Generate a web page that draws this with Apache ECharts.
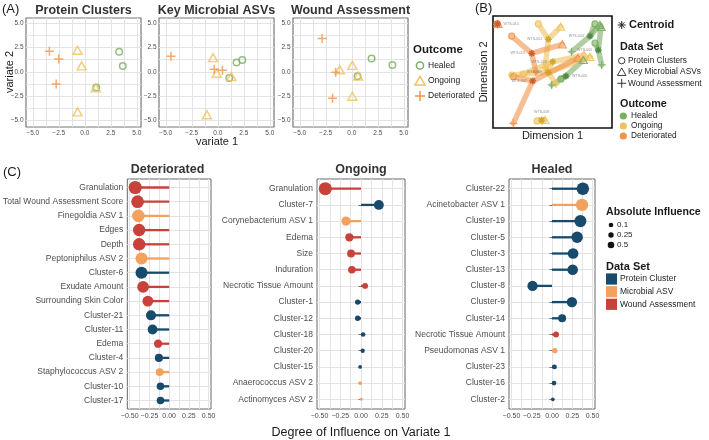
<!DOCTYPE html>
<html><head><meta charset="utf-8">
<script src="https://cdn.jsdelivr.net/npm/echarts@6/dist/echarts.min.js"></script>
<style>html,body{margin:0;padding:0;background:#fff}#c{width:709px;height:440px}</style>
</head><body><div id="c"></div><script>
// ---------- Panel A data ----------
const scatterTitles = ['Protein Clusters', 'Key Microbial ASVs', 'Wound Assessment'];
const outcomes = ['Healed', 'Ongoing', 'Deteriorated'];
const tickLabelsA = [-5, -2.5, 0, 2.5, 5];
const proteinHealed = [[3.3, 2.05], [3.65, 0.6], [1.1, -1.6]];
const proteinOngoing = [[-0.7, 2.2], [-0.3, 0.6], [1.05, -1.65], [-0.7, -4.1]];
const proteinDeteriorated = [[-3.4, 2.1], [-2.5, 1.3], [-2.75, -1.25]];
const microbialHealed = [[1.8, 0.95], [2.35, 1.2], [1.1, -0.65]];
const microbialOngoing = [[-0.45, 1.45], [-0.1, -0.15], [1.3, -0.5], [-1.05, -4.4]];
const microbialDeteriorated = [[-4.5, 1.6], [-0.35, 0.25], [0.45, 0.15]];
const woundHealed = [[1.9, 1.35], [3.9, 0.7], [0.55, -0.45]];
const woundOngoing = [[-1.15, 0.2], [0.05, 0.65], [0.05, -2.5], [0.6, -0.45]];
const woundDeteriorated = [[-2.85, 3.4], [-1.55, -0.05], [-1.85, -2.7]];

// ---------- Panel B data ----------
const subjects = ['WTS-010','WTS-001','WTS-007','WTS-002','WTS-003','WTS-009','WTS-008','WTS-004','WTS-005','WTS-006'];
const subjectOutcome = ['Deteriorated','Deteriorated','Deteriorated','Ongoing','Ongoing','Ongoing','Ongoing','Healed','Healed','Healed'];
const centroidDim = [[3.8,92.9],[32.5,66.7],[33.4,42],[46.5,79.2],[50.2,59.2],[46.5,49.7],[40.9,7.1],[81.5,82.1],[88.5,69.6],[61.3,46.4]];
const proteinDim = [[3.4,92.9],[15.7,82.1],[17.1,45.8],[38.1,92.9],[25.2,48.2],[16,47.3],[37,6.3],[85.7,92.9],[85.7,75.9],[57.1,43.8]];
const microbialDim = [[4.2,92.9],[58.2,74.7],[71.4,62.5],[56.9,90.4],[76.5,65.2],[81.5,63.4],[43.7,7.1],[89.9,92],[90.8,90.2],[75.9,60.7]];
const woundDim = [[3.8,92.4],[36.1,50],[17.1,4.2],[43.7,53.6],[46.2,51.8],[52.9,39.3],[41.2,5.8],[66.1,68.1],[91.3,56.3],[49.3,38.4]];

// ---------- Panel C data ----------
const detNames = ['Granulation','Total Wound Assessment Score','Finegoldia ASV 1','Edges','Depth','Peptoniphilus ASV 2','Cluster-6','Exudate Amount','Surrounding Skin Color','Cluster-21','Cluster-11','Edema','Cluster-4','Staphylococcus ASV 2','Cluster-10','Cluster-17'];
const detValues = [-0.43,-0.40,-0.39,-0.38,-0.38,-0.35,-0.35,-0.33,-0.27,-0.23,-0.21,-0.14,-0.13,-0.12,-0.11,-0.11];
const detSets = ['Wound Assessment','Wound Assessment','Microbial ASV','Wound Assessment','Wound Assessment','Microbial ASV','Protein Cluster','Wound Assessment','Wound Assessment','Protein Cluster','Protein Cluster','Wound Assessment','Protein Cluster','Microbial ASV','Protein Cluster','Protein Cluster'];
const ongNames = ['Granulation','Cluster-7','Corynebacterium ASV 1','Edema','Size','Induration','Necrotic Tissue Amount','Cluster-1','Cluster-12','Cluster-18','Cluster-20','Cluster-15','Anaerococcus ASV 2','Actinomyces ASV 2'];
const ongValues = [-0.43,0.215,-0.18,-0.14,-0.12,-0.11,0.05,-0.04,-0.04,0.025,0.02,-0.01,-0.01,0.003];
const ongSets = ['Wound Assessment','Protein Cluster','Microbial ASV','Wound Assessment','Wound Assessment','Wound Assessment','Wound Assessment','Protein Cluster','Protein Cluster','Protein Cluster','Protein Cluster','Protein Cluster','Microbial ASV','Microbial ASV'];
const healNames = ['Cluster-22','Acinetobacter ASV 1','Cluster-19','Cluster-5','Cluster-3','Cluster-13','Cluster-8','Cluster-9','Cluster-14','Necrotic Tissue Amount','Pseudomonas ASV 1','Cluster-23','Cluster-16','Cluster-2'];
const healValues = [0.38,0.37,0.35,0.31,0.26,0.255,-0.24,0.245,0.125,0.05,0.035,0.03,0.025,0.01];
const healSets = ['Protein Cluster','Microbial ASV','Protein Cluster','Protein Cluster','Protein Cluster','Protein Cluster','Protein Cluster','Protein Cluster','Protein Cluster','Wound Assessment','Microbial ASV','Protein Cluster','Protein Cluster','Protein Cluster'];
const tickLabelsC = [-0.5, -0.25, 0, 0.25, 0.5];
const sizeLegend = ['0.1', '0.25', '0.5'];
const dataSetNames = ['Protein Cluster', 'Microbial ASV', 'Wound Assessment'];

// ---------- styles ----------
const FONT = '"Liberation Sans", Arial, Helvetica, sans-serif';
const COL = {Healed:'#7BAE63', Ongoing:'#EFC25F', Deteriorated:'#F0934B'};
const COL_DARK = {Healed:'#3F7F3B', Ongoing:'#C9A01E', Deteriorated:'#C2502A'};
const SET_COL = {'Protein Cluster':'#184A6B','Microbial ASV':'#F2A25F','Wound Assessment':'#C8413B'};
const GRIDLINE = '#e3e3e3';
const LABEL = '#4d4d4d';

function steps(a, b, s){ const r=[]; for(let k=0; a+k*s<=b+1e-9; k++) r.push(Math.round((a+k*s)*1000)/1000); return r; }
const minus = v => (v<0?'\u2212':'') ;

const grids=[], xAxes=[], yAxes=[], series=[], graphic=[];
function addGrid(g){ grids.push(Object.assign({show:true, backgroundColor:'#fff', borderColor:'#6b6b6b', borderWidth:1}, g)); return grids.length-1; }

// ---------- Panel A ----------
const aSets = [
  [proteinHealed, proteinOngoing, proteinDeteriorated],
  [microbialHealed, microbialOngoing, microbialDeteriorated],
  [woundHealed, woundOngoing, woundDeteriorated]
];
const aLefts = [26, 159, 293];
const aGridVals = steps(-5, 5, 1.25);
const fmtA = v => minus(v) + Math.abs(v).toFixed(1);
const symA = {
  Healed: {symbol:'circle', symbolSize:6.5},
  Ongoing: {symbol:'triangle', symbolSize:[9,8]},
  Deteriorated: {symbol:'path://M0,5L10,5M5,0L5,10', symbolSize:9}
};
aSets.forEach((sets, p) => {
  const g = addGrid({left:aLefts[p], top:18, width:115, height:109, borderColor:'#777', borderWidth:1.2});
  xAxes.push({type:'value', gridIndex:g, min:-5.65, max:5.4,
    axisLine:{show:false}, axisTick:{show:false, customValues:aGridVals},
    splitLine:{show:true, lineStyle:{color:GRIDLINE, width:1}},
    axisLabel:{customValues:tickLabelsA, formatter:fmtA, fontSize:6.5, color:LABEL, margin:2.5, fontFamily:FONT}});
  yAxes.push({type:'value', gridIndex:g, min:-5.65, max:5.5,
    axisLine:{show:false}, axisTick:{show:false, customValues:aGridVals},
    splitLine:{show:true, lineStyle:{color:GRIDLINE, width:1}},
    axisLabel:{customValues:tickLabelsA, formatter:fmtA, fontSize:6.5, color:LABEL, margin:2.5, fontFamily:FONT}});
  const xi = xAxes.length-1, yi = yAxes.length-1;
  outcomes.forEach((o, k) => {
    series.push(Object.assign({type:'scatter', xAxisIndex:xi, yAxisIndex:yi, data:sets[k], silent:true,
      itemStyle:{color:'rgba(0,0,0,0)', borderColor:COL[o], borderWidth:1.5}}, symA[o]));
  });
});

// ---------- Panel B ----------
{
  const g = addGrid({left:493, top:16, width:119, height:112, borderColor:'#111', borderWidth:1.6});
  xAxes.push({type:'value', gridIndex:g, min:0, max:100, show:false});
  yAxes.push({type:'value', gridIndex:g, min:0, max:100, show:false});
  const xi = xAxes.length-1, yi = yAxes.length-1;
  outcomes.forEach(o => {
    const segs = [];
    subjects.forEach((s, i) => {
      if (subjectOutcome[i] !== o) return;
      [proteinDim, microbialDim, woundDim].forEach(arr => segs.push({coords:[centroidDim[i], arr[i]]}));
    });
    series.push({type:'lines', coordinateSystem:'cartesian2d', xAxisIndex:xi, yAxisIndex:yi, data:segs, silent:true, z:1,
      lineStyle:{color:COL[o], width:5.5, opacity:0.6, cap:'round'}});
  });
  const ptSym = [
    [proteinDim, {symbol:'circle', symbolSize:6}],
    [microbialDim, {symbol:'triangle', symbolSize:[8,7]}],
    [woundDim, {symbol:'path://M0,5L10,5M5,0L5,10', symbolSize:8}]
  ];
  ptSym.forEach(([arr, sym]) => {
    series.push(Object.assign({type:'scatter', xAxisIndex:xi, yAxisIndex:yi, silent:true, z:3,
      data: arr.map((v,i)=>({value:v, itemStyle:{color:'rgba(0,0,0,0)', borderColor:COL[subjectOutcome[i]], borderWidth:1.2, opacity:0.9}}))}, sym));
  });
  const labelSide = ['right','left','left','left','left','left','top','left','left','right'];
  series.push({type:'scatter', xAxisIndex:xi, yAxisIndex:yi, silent:true, z:4,
    symbol:'path://M5,0L5,10M0,5L10,5M1.5,1.5L8.5,8.5M8.5,1.5L1.5,8.5', symbolSize:7,
    data: centroidDim.map((v,i)=>({value:v, name:subjects[i],
      itemStyle:{color:'rgba(0,0,0,0)', borderColor:COL_DARK[subjectOutcome[i]], borderWidth:1.2},
      label:{show:true, position:labelSide[i], formatter:'{b}', fontSize:3.6, color:'#777', distance:2, fontFamily:FONT}}))});
  series.push({type:'scatter', xAxisIndex:xi, yAxisIndex:yi, silent:true, z:2, symbol:'circle', symbolSize:7,
    data:[centroidDim[0]], itemStyle:{color:COL.Deteriorated, opacity:0.9}});
}

// ---------- Panel C ----------
const cPanels = [
  {names:detNames, values:detValues, sets:detSets, left:124, width:87},
  {names:ongNames, values:ongValues, sets:ongSets, left:317, width:88},
  {names:healNames, values:healValues, sets:healSets, left:509, width:86}
];
const fmtC = v => minus(v) + Math.abs(v).toFixed(2);
cPanels.forEach(P => {
  const g = addGrid({left:P.left, top:179, width:P.width, height:230, borderColor:'#666', borderWidth:1});
  const n = P.names.length;
  const idx = steps(0, n-1, 1);
  xAxes.push({type:'value', gridIndex:g, min:-0.53, max:0.53,
    axisLine:{show:false}, axisTick:{show:false, customValues:steps(-0.5,0.5,0.125)},
    splitLine:{show:true, lineStyle:{color:GRIDLINE, width:1}},
    axisLabel:{customValues:tickLabelsC, formatter:fmtC, fontSize:7, color:LABEL, margin:4, fontFamily:FONT}});
  yAxes.push({type:'value', gridIndex:g, min:-0.6, max:n-1+0.6, inverse:true,
    axisLine:{show:false}, axisTick:{show:true, length:2.5, customValues:idx, lineStyle:{color:'#555', width:0.8}},
    splitLine:{show:true, lineStyle:{color:GRIDLINE, width:1}},
    axisLabel:{customValues:idx, formatter:v=>P.names[Math.round(v)], fontSize:8.5, color:LABEL, margin:4, fontFamily:FONT}});
  const xi = xAxes.length-1, yi = yAxes.length-1;
  series.push({type:'custom', xAxisIndex:xi, yAxisIndex:yi, silent:true, encode:{x:0, y:1},
    data: P.values.map((v,i)=>[v, i, dataSetNames.indexOf(P.sets[i])]),
    renderItem: (params, api) => {
      const v = api.value(0), i = api.value(1), c = SET_COL[dataSetNames[api.value(2)]];
      const p0 = api.coord([0, i]), p1 = api.coord([v, i]);
      const r = (2 + 17*Math.sqrt(Math.abs(v)))/2;
      return {type:'group', children:[
        {type:'line', shape:{x1:p0[0], y1:p0[1], x2:p1[0], y2:p1[1]}, style:{stroke:c, lineWidth:2.3}},
        {type:'circle', shape:{cx:p1[0], cy:p1[1], r:r}, style:{fill:c}}
      ]};
    }});
});

// ---------- text & legends ----------
function T(text, x, y, size, opt){
  opt = opt || {};
  graphic.push({type:'text', x:x, y:y, rotation:opt.rot||0, z:100, silent:true,
    style:{text:text, x:0, y:0, fontSize:size, fontWeight:opt.bold?'bold':'normal', fontFamily:FONT,
      fill:opt.color||'#1a1a1a', align:opt.align||'left', verticalAlign:'middle'}});
}
function circ(cx, cy, r, fill, stroke, lw){ graphic.push({type:'circle', z:100, silent:true, shape:{cx, cy, r}, style:{fill:fill||'none', stroke:stroke||null, lineWidth:lw||1}}); }
function tri(cx, cy, w, h, stroke, lw){ graphic.push({type:'polygon', z:100, silent:true, shape:{points:[[cx,cy-h/2],[cx-w/2,cy+h/2],[cx+w/2,cy+h/2]]}, style:{fill:'none', stroke, lineWidth:lw}}); }
function seg(x1,y1,x2,y2,stroke,lw){ graphic.push({type:'line', z:100, silent:true, shape:{x1,y1,x2,y2}, style:{stroke, lineWidth:lw}}); }
function cross(cx, cy, s, stroke, lw){ seg(cx-s/2,cy,cx+s/2,cy,stroke,lw); seg(cx,cy-s/2,cx,cy+s/2,stroke,lw); }

// Panel A text
T('(A)', 2, 9, 13);
scatterTitles.forEach((t,p) => T(t, aLefts[p]+57.5, 11, 12.5, {bold:true, align:'center', color:'#333'}));
T('variate 2', 10, 72, 11, {rot:Math.PI/2, align:'center'});
T('variate 1', 217, 142, 11, {align:'center'});
T('Outcome', 413, 50, 11.5, {bold:true});
circ(420, 65.5, 3.6, 'none', COL.Healed, 1.5);
tri(420, 80.7, 10, 8.5, COL.Ongoing, 1.5);
cross(420, 96, 10, COL.Deteriorated, 1.5);
outcomes.forEach((o,k) => T(o, 428, [65.5, 80.7, 96][k], 8.5));

// Panel B text
T('(B)', 475, 8, 13);
T('Dimension 2', 484, 72, 11, {rot:Math.PI/2, align:'center'});
T('Dimension 1', 552.5, 136, 11, {align:'center'});
seg(617.7,25,625.7,25,'#222',1); seg(621.7,21,621.7,29,'#222',1); seg(618.9,22.2,624.5,27.8,'#222',1); seg(624.5,22.2,618.9,27.8,'#222',1);
T('Centroid', 629, 25, 11, {bold:true});
T('Data Set', 620, 47, 10.8, {bold:true});
circ(621.7, 60.7, 3.2, 'none', '#222', 0.9);
tri(621.7, 71.7, 8.5, 7.5, '#222', 0.9);
cross(621.7, 83.3, 9, '#222', 0.9);
T('Protein Clusters', 628, 61, 8.3);
T('Key Microbial ASVs', 628, 72, 8.3);
T('Wound Assessment', 628, 83.5, 8.3);
T('Outcome', 620, 104, 10.8, {bold:true});
outcomes.forEach((o,k) => { circ(623.3, [116,126,136][k], 3.6, COL[o]); T(o, 631, [116,126,136][k], 8.3); });

// Panel C text
T('(C)', 3, 172, 13);
cPanels.forEach((P,k) => T(['Deteriorated','Ongoing','Healed'][k], P.left + P.width/2, 170, 12.5, {bold:true, align:'center', color:'#333'}));
T('Degree of Influence on Variate 1', 361, 433, 12.5, {align:'center'});
T('Absolute Influence', 606, 211.7, 10.6, {bold:true});
sizeLegend.forEach((s,k) => { circ(611, [225,235,245][k], [2.3,2.7,3.3][k], '#111'); T(s, 617, [225,235,245][k], 8); });
T('Data Set', 606, 266.7, 11, {bold:true});
dataSetNames.forEach((d,k) => {
  const cy = [279, 291.7, 304.3][k];
  graphic.push({type:'rect', z:100, silent:true, shape:{x:606, y:cy-5.6, width:11, height:11.2}, style:{fill:SET_COL[d]}});
  T(d, 620, cy, 8.5);
});

const chart = echarts.init(document.getElementById('c'), null, {renderer:'canvas'});
chart.setOption({animation:false, backgroundColor:'#fff', grid:grids, xAxis:xAxes, yAxis:yAxes, series:series, graphic:graphic});
</script></body></html>
